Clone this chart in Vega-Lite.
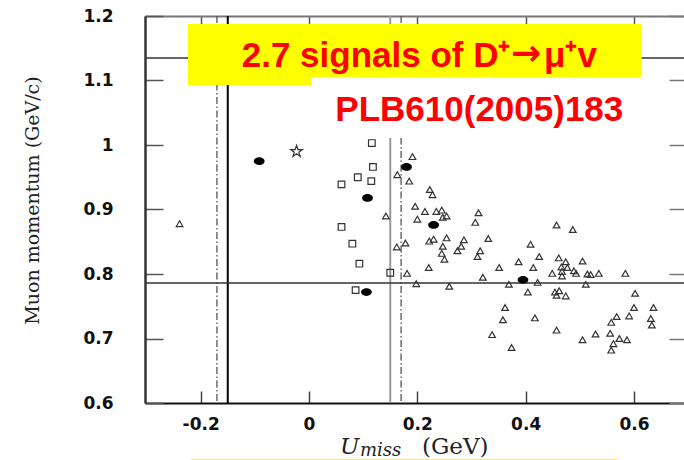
{
  "$schema": "https://vega.github.io/schema/vega-lite/v6.json",
  "width": 539,
  "height": 387,
  "autosize": {"type": "none"},
  "padding": {"left": 145, "top": 16, "right": 0, "bottom": 57},
  "background": "white",
  "config": {"view": {"stroke": null}, "axis": {"grid": false}},
  "resolve": {"axis": {"x": "independent", "y": "independent"}},
  "datasets": {
    "pts": [
      {"kind": "tri", "u": -0.239, "p": 0.878},
      {"kind": "tri", "u": 0.191, "p": 0.982},
      {"kind": "tri", "u": 0.163, "p": 0.954},
      {"kind": "tri", "u": 0.185, "p": 0.944},
      {"kind": "tri", "u": 0.196, "p": 0.905},
      {"kind": "tri", "u": 0.200, "p": 0.885},
      {"kind": "tri", "u": 0.142, "p": 0.890},
      {"kind": "tri", "u": 0.162, "p": 0.842},
      {"kind": "tri", "u": 0.178, "p": 0.848},
      {"kind": "tri", "u": 0.181, "p": 0.801},
      {"kind": "tri", "u": 0.198, "p": 0.785},
      {"kind": "tri", "u": 0.223, "p": 0.931},
      {"kind": "tri", "u": 0.228, "p": 0.923},
      {"kind": "tri", "u": 0.214, "p": 0.897},
      {"kind": "tri", "u": 0.235, "p": 0.897},
      {"kind": "tri", "u": 0.245, "p": 0.899},
      {"kind": "tri", "u": 0.247, "p": 0.888},
      {"kind": "tri", "u": 0.254, "p": 0.890},
      {"kind": "tri", "u": 0.313, "p": 0.895},
      {"kind": "tri", "u": 0.307, "p": 0.880},
      {"kind": "tri", "u": 0.222, "p": 0.851},
      {"kind": "tri", "u": 0.230, "p": 0.854},
      {"kind": "tri", "u": 0.254, "p": 0.856},
      {"kind": "tri", "u": 0.247, "p": 0.843},
      {"kind": "tri", "u": 0.245, "p": 0.832},
      {"kind": "tri", "u": 0.250, "p": 0.823},
      {"kind": "tri", "u": 0.281, "p": 0.843},
      {"kind": "tri", "u": 0.286, "p": 0.853},
      {"kind": "tri", "u": 0.274, "p": 0.836},
      {"kind": "tri", "u": 0.316, "p": 0.836},
      {"kind": "tri", "u": 0.311, "p": 0.827},
      {"kind": "tri", "u": 0.331, "p": 0.855},
      {"kind": "tri", "u": 0.457, "p": 0.876},
      {"kind": "tri", "u": 0.487, "p": 0.869},
      {"kind": "tri", "u": 0.409, "p": 0.846},
      {"kind": "tri", "u": 0.425, "p": 0.827},
      {"kind": "tri", "u": 0.461, "p": 0.825},
      {"kind": "tri", "u": 0.474, "p": 0.819},
      {"kind": "tri", "u": 0.505, "p": 0.820},
      {"kind": "tri", "u": 0.387, "p": 0.819},
      {"kind": "tri", "u": 0.351, "p": 0.810},
      {"kind": "tri", "u": 0.414, "p": 0.810},
      {"kind": "tri", "u": 0.221, "p": 0.810},
      {"kind": "tri", "u": 0.321, "p": 0.795},
      {"kind": "tri", "u": 0.449, "p": 0.801},
      {"kind": "tri", "u": 0.466, "p": 0.811},
      {"kind": "tri", "u": 0.467, "p": 0.804},
      {"kind": "tri", "u": 0.467, "p": 0.797},
      {"kind": "tri", "u": 0.477, "p": 0.810},
      {"kind": "tri", "u": 0.489, "p": 0.805},
      {"kind": "tri", "u": 0.493, "p": 0.801},
      {"kind": "tri", "u": 0.514, "p": 0.800},
      {"kind": "tri", "u": 0.520, "p": 0.799},
      {"kind": "tri", "u": 0.535, "p": 0.801},
      {"kind": "tri", "u": 0.584, "p": 0.801},
      {"kind": "tri", "u": 0.259, "p": 0.781},
      {"kind": "tri", "u": 0.369, "p": 0.784},
      {"kind": "tri", "u": 0.422, "p": 0.787},
      {"kind": "tri", "u": 0.511, "p": 0.784},
      {"kind": "tri", "u": 0.404, "p": 0.772},
      {"kind": "tri", "u": 0.454, "p": 0.772},
      {"kind": "tri", "u": 0.462, "p": 0.774},
      {"kind": "tri", "u": 0.457, "p": 0.767},
      {"kind": "tri", "u": 0.474, "p": 0.766},
      {"kind": "tri", "u": 0.602, "p": 0.770},
      {"kind": "tri", "u": 0.600, "p": 0.748},
      {"kind": "tri", "u": 0.636, "p": 0.748},
      {"kind": "tri", "u": 0.362, "p": 0.748},
      {"kind": "tri", "u": 0.358, "p": 0.729},
      {"kind": "tri", "u": 0.417, "p": 0.732},
      {"kind": "tri", "u": 0.568, "p": 0.734},
      {"kind": "tri", "u": 0.591, "p": 0.735},
      {"kind": "tri", "u": 0.631, "p": 0.731},
      {"kind": "tri", "u": 0.633, "p": 0.721},
      {"kind": "tri", "u": 0.558, "p": 0.725},
      {"kind": "tri", "u": 0.338, "p": 0.706},
      {"kind": "tri", "u": 0.457, "p": 0.713},
      {"kind": "tri", "u": 0.374, "p": 0.686},
      {"kind": "tri", "u": 0.505, "p": 0.698},
      {"kind": "tri", "u": 0.529, "p": 0.707},
      {"kind": "tri", "u": 0.556, "p": 0.708},
      {"kind": "tri", "u": 0.573, "p": 0.700},
      {"kind": "tri", "u": 0.587, "p": 0.698},
      {"kind": "tri", "u": 0.562, "p": 0.692},
      {"kind": "tri", "u": 0.558, "p": 0.682},
      {"kind": "sq", "u": 0.116, "p": 1.003},
      {"kind": "sq", "u": 0.118, "p": 0.966},
      {"kind": "sq", "u": 0.090, "p": 0.950},
      {"kind": "sq", "u": 0.115, "p": 0.944},
      {"kind": "sq", "u": 0.060, "p": 0.939},
      {"kind": "sq", "u": 0.060, "p": 0.873},
      {"kind": "sq", "u": 0.080, "p": 0.847},
      {"kind": "sq", "u": 0.093, "p": 0.816},
      {"kind": "sq", "u": 0.150, "p": 0.802},
      {"kind": "sq", "u": 0.086, "p": 0.775},
      {"kind": "star", "u": -0.023, "p": 0.990},
      {"kind": "dot", "u": -0.092, "p": 0.975},
      {"kind": "dot", "u": 0.180, "p": 0.966},
      {"kind": "dot", "u": 0.108, "p": 0.918},
      {"kind": "dot", "u": 0.106, "p": 0.772},
      {"kind": "dot", "u": 0.230, "p": 0.876},
      {"kind": "dot", "u": 0.395, "p": 0.791}
    ]
  },
  "layer": [
    {
      "data": {"values": [{"u": -0.15}]},
      "mark": {"type": "rule", "color": "#000000", "strokeWidth": 2},
      "encoding": {
        "x": {"field": "u", "type": "quantitative", "scale": {"domain": [-0.3028, 0.6923], "nice": false, "zero": false}, "axis": null}
      }
    },
    {
      "data": {"values": [{"u": 0.15}]},
      "mark": {"type": "rule", "color": "#999999", "strokeWidth": 2},
      "encoding": {
        "x": {"field": "u", "type": "quantitative", "scale": {"domain": [-0.3028, 0.6923], "nice": false, "zero": false}, "axis": null}
      }
    },
    {
      "data": {"values": [{"u": -0.17}, {"u": 0.17}]},
      "mark": {"type": "rule", "color": "#555555", "strokeWidth": 1.3, "strokeDash": [7, 2.5, 1.5, 2.5]},
      "encoding": {
        "x": {"field": "u", "type": "quantitative", "scale": {"domain": [-0.3028, 0.6923], "nice": false, "zero": false}, "axis": null}
      }
    },
    {
      "data": {"values": [{"p": 1.135}, {"p": 0.786}]},
      "mark": {"type": "rule", "color": "#333333", "strokeWidth": 1.5},
      "encoding": {
        "y": {"field": "p", "type": "quantitative", "scale": {"domain": [0.6, 1.2], "nice": false, "zero": false}, "axis": null}
      }
    },
    {
      "data": {"values": [{"x1": -0.2234, "x2": 0.6142, "y1": 1.1876, "y2": 1.093}]},
      "mark": {"type": "rect", "color": "#FFFF00"},
      "encoding": {
        "x": {"field": "x1", "type": "quantitative", "scale": {"domain": [-0.3028, 0.6923], "nice": false, "zero": false},
              "axis": {"orient": "top", "values": [-0.2, 0, 0.2, 0.4, 0.6], "title": null, "labels": false, "tickSize": -12, "tickWidth": 1.5, "tickColor": "#555555", "domainColor": "#777777", "domainWidth": 2}},
        "x2": {"field": "x2"},
        "y": {"field": "y1", "type": "quantitative", "scale": {"domain": [0.6, 1.2], "nice": false, "zero": false},
              "axis": {"orient": "right", "values": [0.6, 0.7, 0.8, 0.9, 1.0, 1.1, 1.2], "title": null, "labels": false, "domain": false, "tickSize": -15, "tickWidth": 1.5, "tickColor": "#777777"}},
        "y2": {"field": "y2"}
      }
    },
    {
      "data": {"values": [{"x1": 0.0037, "x2": 0.6295, "y1": 1.1054, "y2": 1.0109}]},
      "mark": {"type": "rect", "color": "#FFFFFF"},
      "encoding": {
        "x": {"field": "x1", "type": "quantitative", "scale": {"domain": [-0.3028, 0.6923], "nice": false, "zero": false}, "axis": null},
        "x2": {"field": "x2"},
        "y": {"field": "y1", "type": "quantitative", "scale": {"domain": [0.6, 1.2], "nice": false, "zero": false}, "axis": null},
        "y2": {"field": "y2"}
      }
    },
    {
      "data": {"values": [{"x1": -0.2178, "x2": 0.5704, "y1": 0.5132, "y2": 0.49}]},
      "mark": {"type": "rect", "color": "#FFFF00"},
      "encoding": {
        "x": {"field": "x1", "type": "quantitative", "scale": {"domain": [-0.3028, 0.6923], "nice": false, "zero": false}, "axis": null},
        "x2": {"field": "x2"},
        "y": {"field": "y1", "type": "quantitative", "scale": {"domain": [0.6, 1.2], "nice": false, "zero": false}, "axis": null},
        "y2": {"field": "y2"}
      }
    },
    {
      "data": {"values": [{"u": -0.1242, "p": 1.1202, "label": "2.7 signals of D⁺"}, {"u": 0.4338, "p": 1.1202, "label": "μ⁺v"}]},
      "mark": {"type": "text", "font": "Liberation Sans", "fontWeight": "bold", "fontSize": 35, "color": "#FF0000", "align": "left", "baseline": "alphabetic"},
      "encoding": {
        "x": {"field": "u", "type": "quantitative", "scale": {"domain": [-0.3028, 0.6923], "nice": false, "zero": false}, "axis": null},
        "y": {"field": "p", "type": "quantitative", "scale": {"domain": [0.6, 1.2], "nice": false, "zero": false}, "axis": null},
        "text": {"field": "label"}
      }
    },
    {
      "data": {"values": [{"u": 0.3729, "p": 1.1236, "label": "→"}]},
      "mark": {"type": "text", "font": "DejaVu Sans", "fontWeight": "bold", "fontSize": 36, "color": "#FF0000", "align": "left", "baseline": "alphabetic"},
      "encoding": {
        "x": {"field": "u", "type": "quantitative", "scale": {"domain": [-0.3028, 0.6923], "nice": false, "zero": false}, "axis": null},
        "y": {"field": "p", "type": "quantitative", "scale": {"domain": [0.6, 1.2], "nice": false, "zero": false}, "axis": null},
        "text": {"field": "label"}
      }
    },
    {
      "data": {"values": [{"u": 0.3144, "p": 1.0372, "label": "PLB610(2005)183"}]},
      "mark": {"type": "text", "font": "Liberation Sans", "fontWeight": "bold", "fontSize": 35, "color": "#FF0000", "align": "center", "baseline": "alphabetic"},
      "encoding": {
        "x": {"field": "u", "type": "quantitative", "scale": {"domain": [-0.3028, 0.6923], "nice": false, "zero": false}, "axis": null},
        "y": {"field": "p", "type": "quantitative", "scale": {"domain": [0.6, 1.2], "nice": false, "zero": false}, "axis": null},
        "text": {"field": "label"}
      }
    },
    {
      "data": {"values": [{"u": 0.0572, "p": 0.5205, "label": "U"}]},
      "mark": {"type": "text", "font": "DejaVu Serif", "fontStyle": "italic", "fontSize": 23, "color": "#222222", "align": "left", "baseline": "alphabetic"},
      "encoding": {
        "x": {"field": "u", "type": "quantitative", "scale": {"domain": [-0.3028, 0.6923], "nice": false, "zero": false}, "axis": null},
        "y": {"field": "p", "type": "quantitative", "scale": {"domain": [0.6, 1.2], "nice": false, "zero": false}, "axis": null},
        "text": {"field": "label"}
      }
    },
    {
      "data": {"values": [{"u": 0.0941, "p": 0.5185, "label": "miss"}]},
      "mark": {"type": "text", "font": "DejaVu Serif", "fontStyle": "italic", "fontSize": 18, "color": "#222222", "align": "left", "baseline": "alphabetic"},
      "encoding": {
        "x": {"field": "u", "type": "quantitative", "scale": {"domain": [-0.3028, 0.6923], "nice": false, "zero": false}, "axis": null},
        "y": {"field": "p", "type": "quantitative", "scale": {"domain": [0.6, 1.2], "nice": false, "zero": false}, "axis": null},
        "text": {"field": "label"}
      }
    },
    {
      "data": {"values": [{"u": 0.2086, "p": 0.5215, "label": "(GeV)"}]},
      "mark": {"type": "text", "font": "DejaVu Serif", "fontSize": 23, "color": "#222222", "align": "left", "baseline": "alphabetic"},
      "encoding": {
        "x": {"field": "u", "type": "quantitative", "scale": {"domain": [-0.3028, 0.6923], "nice": false, "zero": false}, "axis": null},
        "y": {"field": "p", "type": "quantitative", "scale": {"domain": [0.6, 1.2], "nice": false, "zero": false}, "axis": null},
        "text": {"field": "label"}
      }
    },
    {
      "data": {"name": "pts"},
      "transform": [{"filter": "datum.kind == 'tri' || datum.kind == 'sq'"}],
      "mark": {"type": "point", "filled": false, "color": "#333333", "strokeWidth": 1.2, "opacity": 1, "size": 44},
      "encoding": {
        "x": {"field": "u", "type": "quantitative", "scale": {"domain": [-0.3028, 0.6923], "nice": false, "zero": false},
              "axis": {"orient": "bottom", "values": [-0.2, 0, 0.2, 0.4, 0.6], "title": null, "tickSize": -12, "tickWidth": 1.5, "tickColor": "#444444", "domainColor": "#111111", "domainWidth": 2, "labelPadding": 25, "labelFont": "DejaVu Sans", "labelFontWeight": "bold", "labelFontSize": 17, "labelColor": "#111111", "labelFlush": false, "labelOverlap": false,
                       "labelExpr": "datum.value < 0 ? '-' + format(-datum.value, '~g') : format(datum.value, '~g')"}},
        "y": {"field": "p", "type": "quantitative", "scale": {"domain": [0.6, 1.2], "nice": false, "zero": false},
              "axis": {"orient": "left", "values": [0.6, 0.7, 0.8, 0.9, 1.0, 1.1, 1.2], "title": "Muon momentum (GeV/c)", "tickSize": -18, "tickWidth": 1.5, "tickColor": "#555555", "domainColor": "#333333", "domainWidth": 2.5, "labelPadding": 50, "labelFont": "DejaVu Sans", "labelFontWeight": "bold", "labelFontSize": 17, "labelColor": "#111111", "labelFlush": false, "labelOverlap": false,
                       "labelExpr": "format(datum.value, '~g')",
                       "titleFont": "DejaVu Serif", "titleFontWeight": "normal", "titleFontSize": 19, "titleColor": "#222222", "titleAngle": 270, "titleBaseline": "alphabetic", "titleX": -107, "titleY": 184, "titleAnchor": "middle"}},
        "shape": {"field": "kind", "type": "nominal", "legend": null,
                  "scale": {"domain": ["tri", "sq"], "range": ["triangle-up", "square"]}}
      }
    },
    {
      "data": {"name": "pts"},
      "transform": [{"filter": "datum.kind == 'star'"}],
      "mark": {"type": "point", "filled": false, "color": "#333333", "strokeWidth": 1.2, "opacity": 1, "size": 150, "shape": "M0,-1L0.2245,-0.309L0.9511,-0.309L0.3633,0.118L0.5878,0.809L0,0.382L-0.5878,0.809L-0.3633,0.118L-0.9511,-0.309L-0.2245,-0.309Z"},
      "encoding": {
        "x": {"field": "u", "type": "quantitative", "scale": {"domain": [-0.3028, 0.6923], "nice": false, "zero": false}, "axis": null},
        "y": {"field": "p", "type": "quantitative", "scale": {"domain": [0.6, 1.2], "nice": false, "zero": false}, "axis": null}
      }
    },
    {
      "data": {"name": "pts"},
      "transform": [{"filter": "datum.kind == 'dot'"}],
      "mark": {"type": "point", "filled": true, "color": "#000000", "opacity": 1, "size": 115, "shape": "M-1,0A1,0.72,0,1,1,1,0A1,0.72,0,1,1,-1,0Z"},
      "encoding": {
        "x": {"field": "u", "type": "quantitative", "scale": {"domain": [-0.3028, 0.6923], "nice": false, "zero": false}, "axis": null},
        "y": {"field": "p", "type": "quantitative", "scale": {"domain": [0.6, 1.2], "nice": false, "zero": false}, "axis": null}
      }
    }
  ]
}
